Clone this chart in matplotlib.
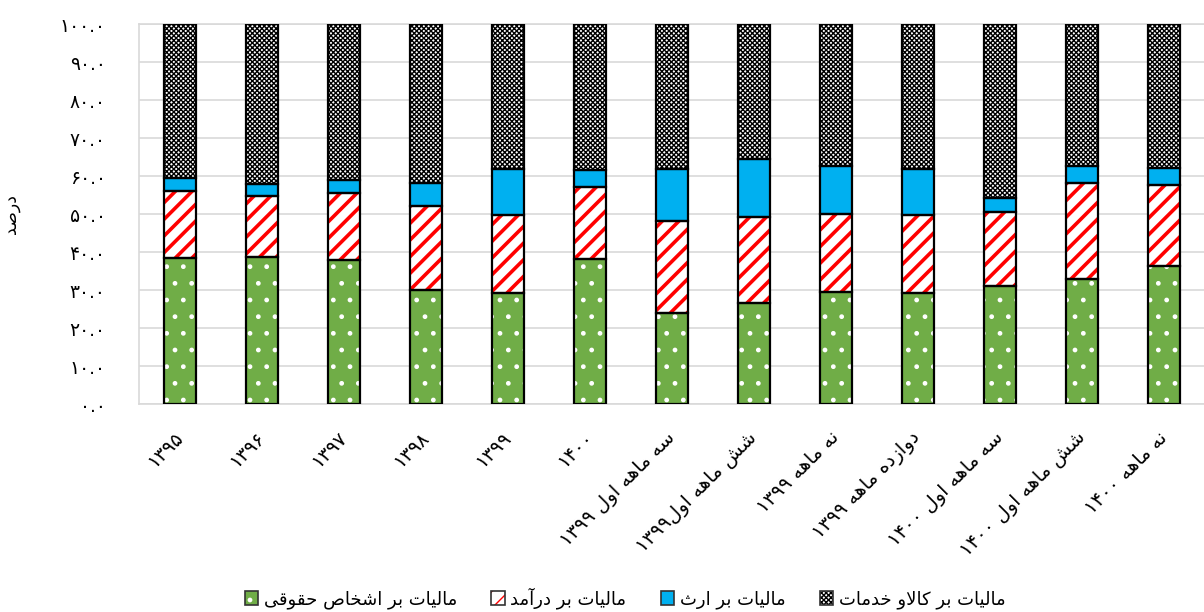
import re
import numpy as np
import matplotlib
matplotlib.use("Agg")
import matplotlib.pyplot as plt
from matplotlib.patches import Patch
from matplotlib.legend_handler import HandlerTuple

# categories (Persian)
categories = ['۱۳۹۵', '۱۳۹۶', '۱۳۹۷', '۱۳۹۸', '۱۳۹۹', '۱۴۰۰',
              'سه ماهه اول ۱۳۹۹', 'شش ماهه اول۱۳۹۹', 'نه ماهه ۱۳۹۹',
              'دوازده ماهه ۱۳۹۹', 'سه ماهه اول ۱۴۰۰', 'شش ماهه اول ۱۴۰۰',
              'نه ماهه ۱۴۰۰']

# shares in percent
corporate = [38.3, 38.8, 38.0, 30.1, 29.1, 38.2, 23.9, 26.6, 29.6, 29.1, 31.0, 33.0, 36.4]
income = [17.8, 16.0, 17.4, 22.0, 20.7, 18.8, 24.3, 22.7, 20.4, 20.7, 19.4, 25.1, 21.3]
inheritance = [3.4, 3.0, 3.6, 6.0, 12.0, 4.7, 13.7, 15.1, 12.7, 12.1, 3.9, 4.6, 4.5]
goods_services = [40.5, 42.2, 41.0, 41.9, 38.2, 38.3, 38.1, 35.6, 37.3, 38.1, 45.7, 37.3, 37.8]

names = ['مالیات بر اشخاص حقوقی', 'مالیات بر درآمد', 'مالیات بر ارث', 'مالیات بر کالاو خدمات']
ylabel = 'درصد'

# --- minimal Persian shaping (matplotlib has no complex text layout) ---
FORMS = {
    'ا': ('\uFE8D', '\uFE8E', None, None),
    'آ': ('\uFE81', '\uFE82', None, None),
    'ب': ('\uFE8F', '\uFE90', '\uFE91', '\uFE92'),
    'ت': ('\uFE95', '\uFE96', '\uFE97', '\uFE98'),
    'ث': ('\uFE99', '\uFE9A', '\uFE9B', '\uFE9C'),
    'ح': ('\uFEA1', '\uFEA2', '\uFEA3', '\uFEA4'),
    'خ': ('\uFEA5', '\uFEA6', '\uFEA7', '\uFEA8'),
    'د': ('\uFEA9', '\uFEAA', None, None),
    'ر': ('\uFEAD', '\uFEAE', None, None),
    'ز': ('\uFEAF', '\uFEB0', None, None),
    'س': ('\uFEB1', '\uFEB2', '\uFEB3', '\uFEB4'),
    'ش': ('\uFEB5', '\uFEB6', '\uFEB7', '\uFEB8'),
    'ص': ('\uFEB9', '\uFEBA', '\uFEBB', '\uFEBC'),
    'ق': ('\uFED5', '\uFED6', '\uFED7', '\uFED8'),
    'ک': ('\uFB8E', '\uFB8F', '\uFB90', '\uFB91'),
    'ل': ('\uFEDD', '\uFEDE', '\uFEDF', '\uFEE0'),
    'م': ('\uFEE1', '\uFEE2', '\uFEE3', '\uFEE4'),
    'ن': ('\uFEE5', '\uFEE6', '\uFEE7', '\uFEE8'),
    'ه': ('\uFEE9', '\uFEEA', '\uFEEB', '\uFEEC'),
    'و': ('\uFEED', '\uFEEE', None, None),
    'ی': ('\uFBFC', '\uFBFD', '\uFBFE', '\uFBFF'),
}
LAM_ALEF = {'ا': ('\uFEFB', '\uFEFC'), 'آ': ('\uFEF5', '\uFEF6')}


def dual(c):
    return c in FORMS and FORMS[c][2] is not None


def shape(text):
    out = []
    i = 0
    while i < len(text):
        c = text[i]
        if c not in FORMS:
            out.append(c)
            i += 1
            continue
        joins_prev = i > 0 and dual(text[i - 1])
        if c == 'ل' and i + 1 < len(text) and text[i + 1] in LAM_ALEF:
            lig = LAM_ALEF[text[i + 1]]
            out.append(lig[1] if joins_prev else lig[0])
            i += 2
            continue
        joins_next = dual(c) and i + 1 < len(text) and text[i + 1] in FORMS
        iso, fin, ini, med = FORMS[c]
        if joins_prev and joins_next:
            out.append(med)
        elif joins_prev:
            out.append(fin)
        elif joins_next:
            out.append(ini)
        else:
            out.append(iso)
        i += 1
    return ''.join(out)


def rtl(text):
    s = shape(text)[::-1]
    return re.sub(r'[۰-۹0-9]+', lambda m: m.group(0)[::-1], s)


FA_DIGITS = str.maketrans('0123456789', '۰۱۲۳۴۵۶۷۸۹')

plt.rcParams['font.family'] = ['DejaVu Sans']

fig = plt.figure(figsize=(12.04, 6.12), dpi=100)
ax = fig.add_axes([139 / 1204, 1 - 404 / 612, 1066 / 1204, 380 / 612])

x = np.arange(len(categories))
width = 0.40

series = [
    (corporate, '#70AD47', '.', 'white', 1.0),
    (income, 'white', '//', '#FF0000', 2.6),
    (inheritance, '#00B0F0', '', 'none', 1.0),
    (goods_services, 'white', 'xxxxxxx', 'black', 1.0),
]

bottom = np.zeros(len(categories))
handles = []
for vals, face, hatch, hcol, hlw in series:
    vals = np.array(vals)
    ax.bar(x, vals, width, bottom=bottom, color=face, linewidth=0, zorder=2)
    if hatch:
        with plt.rc_context({'hatch.linewidth': hlw}):
            bars = ax.bar(x, vals, width, bottom=bottom, facecolor='none',
                          edgecolor=hcol, hatch=hatch, linewidth=0, zorder=3)
        for b in bars:
            if hasattr(b, 'set_hatch_linewidth'):
                b.set_hatch_linewidth(hlw)
    ax.bar(x, vals, width, bottom=bottom, facecolor='none',
           edgecolor='black', linewidth=1.6, zorder=4)
    bottom += vals

    parts = [Patch(facecolor=face, linewidth=0)]
    if hatch:
        with plt.rc_context({'hatch.linewidth': hlw}):
            hp = Patch(facecolor='none', edgecolor=hcol, hatch=hatch, linewidth=0)
        if hasattr(hp, 'set_hatch_linewidth'):
            hp.set_hatch_linewidth(hlw)
        parts.append(hp)
    parts.append(Patch(facecolor='none', edgecolor='#333333', linewidth=1.2))
    handles.append(tuple(parts))

ax.set_xlim(-0.5, len(categories) - 0.5)
ax.set_ylim(0, 100)
ax.set_yticks(np.arange(0, 101, 10))
ax.set_yticklabels([f'{v:.1f}'.translate(FA_DIGITS) for v in np.arange(0, 101, 10)])
ax.set_xticks(x)
ax.set_xticklabels([rtl(c) for c in categories], rotation=45, ha='right',
                   va='center', rotation_mode='anchor')
ax.tick_params(axis='y', length=0, pad=24, labelsize=13.5)
ax.tick_params(axis='x', length=0, pad=22, labelsize=14)

ax.grid(axis='y', color='#d9d9d9', linewidth=1.2, zorder=0)
ax.set_axisbelow(True)
for sp in ax.spines.values():
    sp.set_color('#d9d9d9')
    sp.set_linewidth(1.2)

ax.set_ylabel(rtl(ylabel), fontsize=12.5)
ax.yaxis.set_label_coords(-0.112, 0.5)

# legend laid out left to right: icon, then its label
fig.legend(handles, [rtl(n) for n in names],
           handler_map={tuple: HandlerTuple(ndivide=1)},
           loc='center', bbox_to_anchor=(625 / 1204, 1 - 598 / 612),
           ncol=4, frameon=False, markerfirst=True, fontsize=13,
           handlelength=0.75, handleheight=0.75, columnspacing=1.9,
           handletextpad=0.3)

fig.savefig('out.png', dpi=100)
